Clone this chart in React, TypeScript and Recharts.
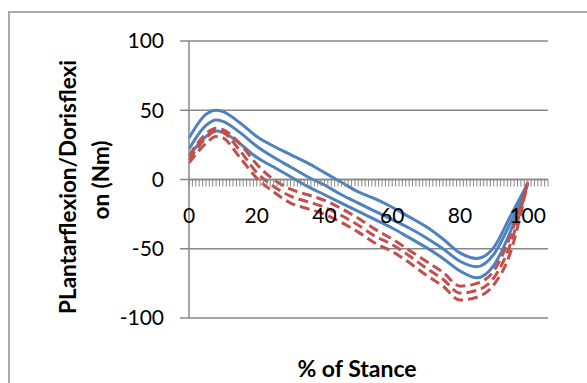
import { LineChart, Line, XAxis, YAxis, CartesianGrid, ReferenceLine } from "recharts";

// % of stance sampled
const STANCE = [0, 5, 8, 10, 15, 20, 25, 30, 35, 40, 45, 50, 55, 60, 65, 70, 75, 80, 85, 90, 95, 100];

// blue group (mean +/- sd)
const BLUE_HI = [30, 47, 50, 49, 41, 31, 24, 18, 12, 5, -2, -9, -14, -20, -27, -34, -43, -53, -57, -49, -26, -3];
const BLUE_MEAN = [22, 39, 43, 42, 34, 24, 16, 9, 2, -4, -11, -17, -23, -29, -35, -42, -50, -59, -63, -54, -31, -3];
const BLUE_LO = [17, 31, 35, 34, 26, 16, 9, 2, -5, -11, -17, -23, -29, -35, -42, -49, -57, -66, -71, -62, -37, -3];

// red group (dashed)
const RED_HI = [17, 33, 37, 36, 26, 11, 0, -7, -11, -15, -21, -28, -36, -43, -51, -59, -67, -77, -75, -66, -40, -2];
const RED_MEAN = [14, 30, 35, 34, 21, 5, -5, -12, -16, -20, -26, -33, -41, -47, -55, -64, -72, -82, -80, -71, -46, -2];
const RED_LO = [12, 26, 31, 30, 16, 1, -9, -17, -21, -25, -31, -38, -46, -52, -60, -69, -77, -87, -85, -76, -52, -2];

const Y_TICKS = [-100, -50, 0, 50, 100];
const X_LABELS = [0, 20, 40, 60, 80, 100];
const X_MINOR = Array.from({ length: 107 }, (_, i) => i);

const rows = STANCE.map((s, i) => ({
  stance: s,
  bHi: BLUE_HI[i],
  bMean: BLUE_MEAN[i],
  bLo: BLUE_LO[i],
  rHi: RED_HI[i],
  rMean: RED_MEAN[i],
  rLo: RED_LO[i],
}));

const BLUE = "#4F81BD";
const RED = "#C0504D";
const GRID = "#878787";
const FONT = "Lato, 'Open Sans', sans-serif";

const PLOT_TOP = 41;
const PLOT_BOTTOM = 318;
const ZERO_Y = PLOT_TOP + (PLOT_BOTTOM - PLOT_TOP) / 2;

function StanceTick(props: any) {
  const { x, payload } = props;
  const v = payload.value;
  return (
    <g>
      <line x1={x} x2={x} y1={ZERO_Y} y2={ZERO_Y + 7} stroke={GRID} strokeWidth={1} />
      {X_LABELS.includes(v) && (
        <text x={x} y={ZERO_Y + 43} textAnchor="middle" fontSize={21} fontFamily={FONT} fill="#000">
          {v}
        </text>
      )}
    </g>
  );
}

export default function App() {
  return (
    <div
      style={{
        position: "fixed",
        left: 0,
        top: 0,
        width: 587,
        height: 383,
        overflow: "hidden",
        background: "#fff",
      }}
    >
      {/* chart frame, only top/left edges show */}
      <div
        style={{
          position: "absolute",
          left: 8,
          top: 11,
          width: 640,
          height: 440,
          border: "2px solid #ababab",
        }}
      />
      <div style={{ position: "absolute", left: 0, top: 0 }}>
        <LineChart width={587} height={383} data={rows} margin={{ top: PLOT_TOP, right: 39, bottom: 35, left: 0 }}>
          <CartesianGrid vertical={false} stroke={GRID} strokeWidth={1.5} />
          <XAxis
            dataKey="stance"
            type="number"
            domain={[0, 106]}
            ticks={X_MINOR}
            interval={0}
            height={30}
            axisLine={false}
            tickLine={false}
            tick={<StanceTick />}
          />
          <YAxis
            type="number"
            domain={[-100, 100]}
            ticks={Y_TICKS}
            width={189}
            stroke={GRID}
            axisLine={{ stroke: GRID, strokeWidth: 1.5 }}
            tickLine={{ stroke: GRID, strokeWidth: 1.5 }}
            tickSize={9}
            tickMargin={16}
            tick={{ fontSize: 21, fill: "#000", fontFamily: FONT }}
          />
          <ReferenceLine y={0} stroke={GRID} strokeWidth={1.5} />
          <Line type="monotone" dataKey="bHi" stroke={BLUE} strokeWidth={3} dot={false} isAnimationActive={false} />
          <Line type="monotone" dataKey="bMean" stroke={BLUE} strokeWidth={3} dot={false} isAnimationActive={false} />
          <Line type="monotone" dataKey="bLo" stroke={BLUE} strokeWidth={3} dot={false} isAnimationActive={false} />
          <Line type="monotone" dataKey="rHi" stroke={RED} strokeWidth={3} strokeDasharray="10 5" dot={false} isAnimationActive={false} />
          <Line type="monotone" dataKey="rMean" stroke={RED} strokeWidth={3} strokeDasharray="10 5" dot={false} isAnimationActive={false} />
          <Line type="monotone" dataKey="rLo" stroke={RED} strokeWidth={3} strokeDasharray="10 5" dot={false} isAnimationActive={false} />
        </LineChart>
      </div>
      <svg width={587} height={383} style={{ position: "absolute", left: 0, top: 0, pointerEvents: "none" }}>
        <text
          transform="translate(67,187) rotate(-90)"
          textAnchor="middle"
          dominantBaseline="central"
          fontSize={22.5}
          fontWeight={700}
          fontFamily={FONT}
          fill="#000"
        >
          PLantarflexion/Dorisflexi
        </text>
        <text
          transform="translate(100,180) rotate(-90)"
          textAnchor="middle"
          dominantBaseline="central"
          fontSize={22.5}
          fontWeight={700}
          fontFamily={FONT}
          fill="#000"
        >
          on (Nm)
        </text>
        <text
          x={357}
          y={368}
          textAnchor="middle"
          dominantBaseline="central"
          fontSize={23}
          fontWeight={700}
          fontFamily={FONT}
          fill="#000"
        >
          % of Stance
        </text>
      </svg>
    </div>
  );
}
